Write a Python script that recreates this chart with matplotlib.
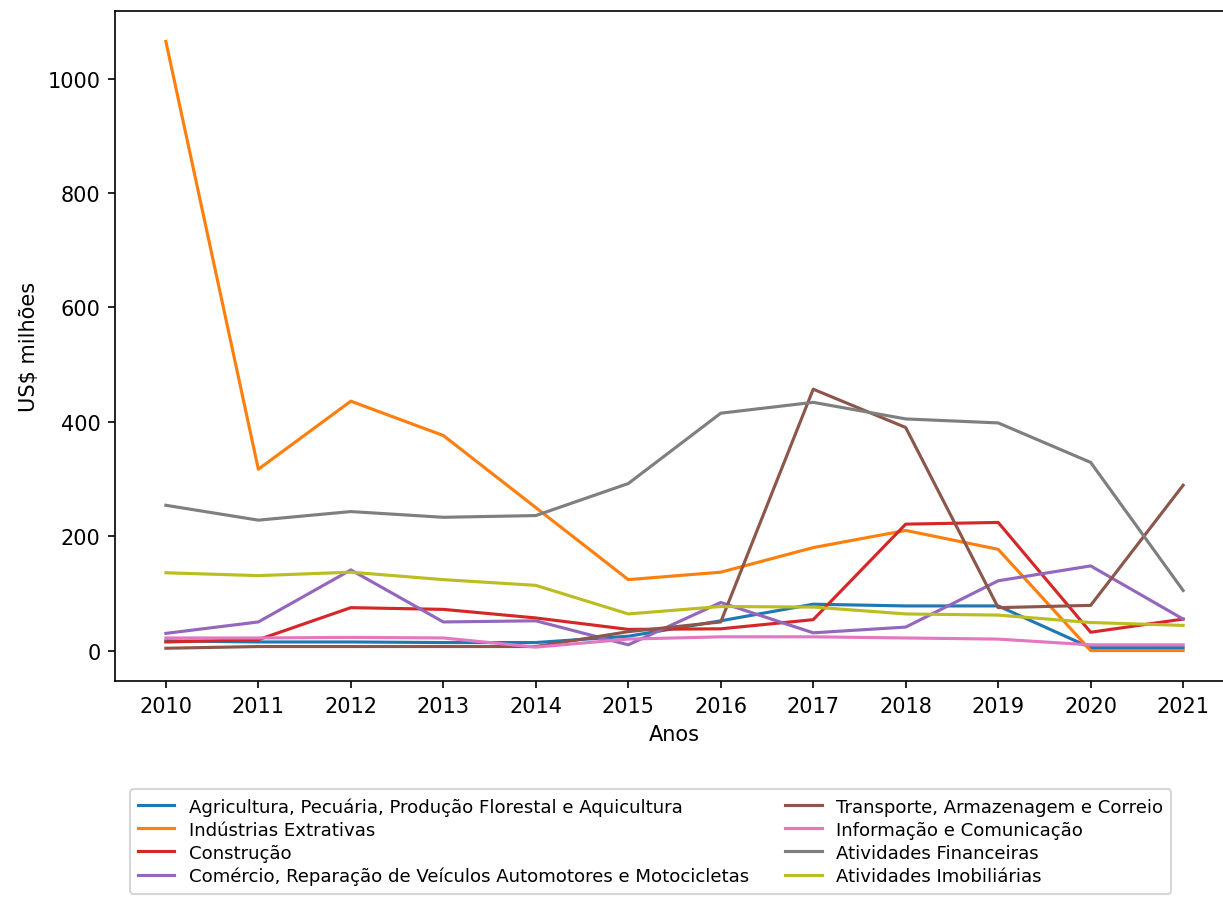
import matplotlib
matplotlib.use("Agg")
import matplotlib.pyplot as plt

anos = [2010, 2011, 2012, 2013, 2014, 2015, 2016, 2017, 2018, 2019, 2020, 2021]

agricultura = [17, 15, 15, 14, 14, 25, 52, 81, 78, 78, 5, 5]
extrativas = [1065, 317, 436, 376, 250, 124, 137, 180, 210, 177, 0, 0]
construcao = [15, 19, 75, 72, 57, 37, 38, 54, 221, 224, 32, 55]
comercio = [30, 50, 141, 50, 52, 10, 84, 31, 41, 122, 148, 55]
transporte = [4, 7, 7, 7, 7, 33, 50, 457, 390, 75, 79, 289]
informacao = [22, 22, 23, 22, 6, 20, 24, 24, 22, 20, 10, 10]
financeiras = [254, 228, 243, 233, 236, 292, 415, 434, 405, 398, 329, 105]
imobiliarias = [136, 131, 137, 124, 114, 64, 77, 76, 64, 62, 49, 44]

series = [
    ("Agricultura, Pecuária, Produção Florestal e Aquicultura", agricultura, "#1f77b4"),
    ("Indústrias Extrativas", extrativas, "#ff7f0e"),
    ("Construção", construcao, "#d62728"),
    ("Comércio, Reparação de Veículos Automotores e Motocicletas", comercio, "#9467bd"),
    ("Transporte, Armazenagem e Correio", transporte, "#8c564b"),
    ("Informação e Comunicação", informacao, "#e377c2"),
    ("Atividades Financeiras", financeiras, "#7f7f7f"),
    ("Atividades Imobiliárias", imobiliarias, "#bcbd22"),
]

plt.rcParams['font.family'] = ['DejaVu Sans']
dpi = 150
fig = plt.figure(figsize=(1223 / dpi, 903 / dpi), dpi=dpi)
ax = fig.add_axes([115 / 1223, 1 - 682 / 903, (1234 - 115) / 1223, (682 - 12) / 903])

for label, vals, color in series:
    ax.plot(anos, vals, label=label, color=color, linewidth=1.5)

ax.set_xticks(anos)
ax.set_xlabel("Anos")
ax.set_ylabel("US$ milhões")

fig.legend(loc="upper left", bbox_to_anchor=(130 / 1223, 1 - 790 / 903), ncol=2,
           fontsize=8.7, labelspacing=0.28, borderaxespad=0, borderpad=0.45)

fig.savefig("out.png", dpi=dpi)
